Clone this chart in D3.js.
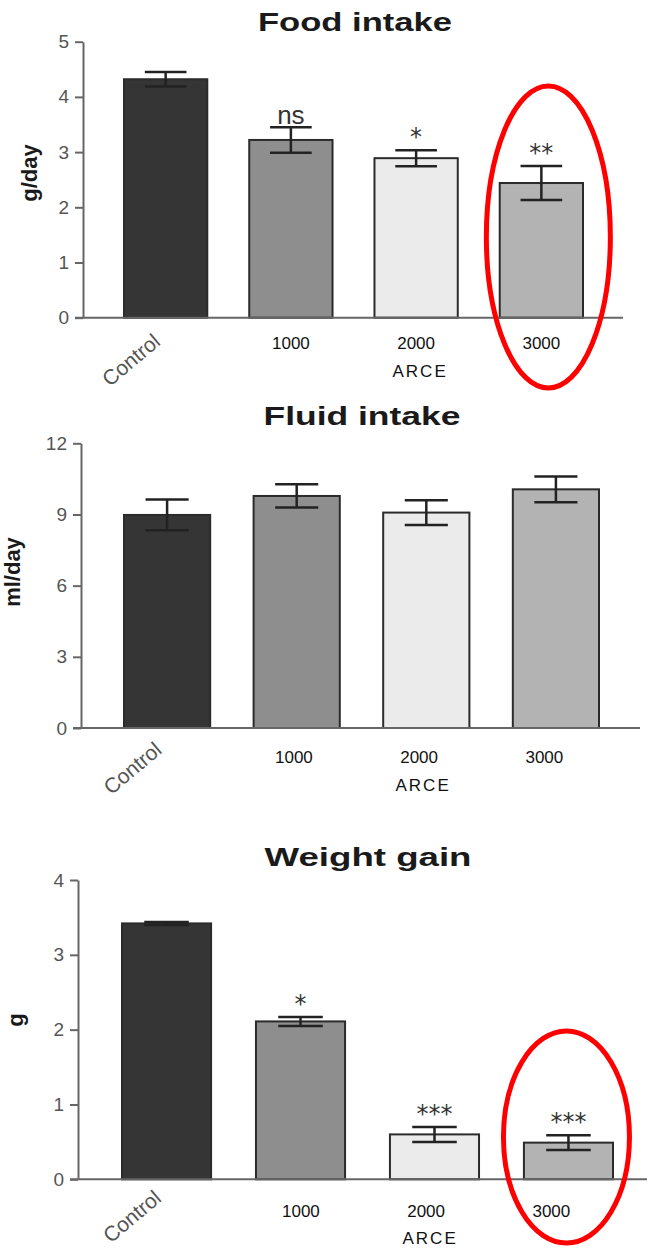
<!DOCTYPE html>
<html>
<head>
<meta charset="utf-8">
<script src="https://cdn.jsdelivr.net/npm/d3@7"></script>
<style>
  body { margin: 0; background: #fff; }
</style>
</head>
<body>
<div id="chart"></div>
<script>
// groups (ARCE dose) and the bar fills
const groups = ["Control", "1000", "2000", "3000"];
const groupFill = ["#353535", "#8e8e8e", "#ebebeb", "#b3b3b3"];

// Food intake (g/day)
const foodMean = [4.32, 3.22, 2.89, 2.44];
const foodErr  = [0.13, 0.23, 0.145, 0.31];
const foodSig  = ["", "ns", "*", "**"];
const foodTicks = [0, 1, 2, 3, 4, 5];

// Fluid intake (ml/day)
const fluidMean = [8.98, 9.78, 9.08, 10.06];
const fluidErr  = [0.65, 0.49, 0.52, 0.54];
const fluidSig  = ["", "", "", ""];
const fluidTicks = [0, 3, 6, 9, 12];

// Weight gain (g)
const weightMean = [3.42, 2.11, 0.60, 0.49];
const weightErr  = [0.02, 0.06, 0.10, 0.10];
const weightSig  = ["", "*", "***", "***"];
const weightTicks = [0, 1, 2, 3, 4];

const xTitle = "ARCE";

const panels = [
  { title: "Food intake", ylab: "g/day", mean: foodMean, err: foodErr, sig: foodSig, ticks: foodTicks,
    ax: 83, top: 41.7, bot: 317.7, bars: [124, 583], lineEnd: 623, lab: [124, 583],
    tx: 355, ty: 31, tw: 194, lx: 37, ly: 173, labDy: 31, arceDy: 59, ctrlDy: 26,
    ring: { dx: 7, cy: 237, rx: 62, ry: 151 } },
  { title: "Fluid intake", ylab: "ml/day", mean: fluidMean, err: fluidErr, sig: fluidSig, ticks: fluidTicks,
    ax: 81, top: 443.3, bot: 728, bars: [124, 599], lineEnd: 640, lab: [127, 586],
    tx: 362, ty: 425, tw: 197, lx: 20, ly: 572, labDy: 35, arceDy: 63, ctrlDy: 24,
    ring: null },
  { title: "Weight gain", ylab: "g", mean: weightMean, err: weightErr, sig: weightSig, ticks: weightTicks,
    ax: 78, top: 880, bot: 1179.3, bars: [122, 613], lineEnd: 647, lab: [134, 593],
    tx: 368, ty: 866, tw: 207, lx: 23, ly: 1020, labDy: 38, arceDy: 65, ctrlDy: 21,
    ring: { dx: -2, cy: 1137, rx: 63, ry: 106 } }
];

const svg = d3.select("#chart").append("svg")
  .attr("width", 647)
  .attr("height", 1248)
  .style("display", "block");

panels.forEach(function(p) {
  const g = svg.append("g");
  const rows = groups.map(function(k, i) {
    return { key: k, mean: p.mean[i], err: p.err[i], sig: p.sig[i], fill: groupFill[i] };
  });

  const y = d3.scaleLinear()
    .domain([0, d3.max(p.ticks)])
    .range([p.bot, p.top]);

  const x = d3.scaleBand()
    .domain(groups)
    .range(p.bars)
    .paddingInner(0.335)
    .paddingOuter(0);

  // labels sit on a slightly different spacing than the bars
  const xl = d3.scaleBand()
    .domain(groups)
    .range(p.lab)
    .paddingInner(0.335)
    .paddingOuter(0);

  // title
  g.append("text")
    .attr("x", p.tx)
    .attr("y", p.ty)
    .attr("text-anchor", "middle")
    .attr("textLength", p.tw)
    .attr("lengthAdjust", "spacingAndGlyphs")
    .style("font-family", "'Liberation Sans', Arial, sans-serif")
    .style("font-weight", "bold")
    .style("font-size", "26px")
    .style("fill", "#1a1a1a")
    .text(p.title);

  // y label
  g.append("text")
    .attr("transform", "translate(" + p.lx + "," + p.ly + ") rotate(-90)")
    .attr("text-anchor", "middle")
    .style("font-family", "'Liberation Sans', Arial, sans-serif")
    .style("font-weight", "bold")
    .style("font-size", "22px")
    .style("fill", "#1a1a1a")
    .text(p.ylab);

  // bars
  g.selectAll("rect.bar")
    .data(rows)
    .enter()
    .append("rect")
      .attr("class", "bar")
      .attr("x", function(d) { return x(d.key); })
      .attr("y", function(d) { return y(d.mean); })
      .attr("width", x.bandwidth())
      .attr("height", function(d) { return y(0) - y(d.mean); })
      .attr("fill", function(d) { return d.fill; })
      .attr("stroke", "#2b2b2b")
      .attr("stroke-width", 2);

  // error bars (stem + two caps, half the bar width)
  const cap = x.bandwidth() / 4;
  const eb = g.selectAll("g.err")
    .data(rows)
    .enter()
    .append("g")
      .attr("class", "err")
      .attr("stroke", "#222")
      .attr("stroke-width", 2.5);
  eb.append("line")
    .attr("x1", function(d) { return x(d.key) + x.bandwidth() / 2; })
    .attr("x2", function(d) { return x(d.key) + x.bandwidth() / 2; })
    .attr("y1", function(d) { return y(d.mean + d.err); })
    .attr("y2", function(d) { return y(d.mean - d.err); });
  eb.append("line")
    .attr("x1", function(d) { return x(d.key) + x.bandwidth() / 2 - cap; })
    .attr("x2", function(d) { return x(d.key) + x.bandwidth() / 2 + cap; })
    .attr("y1", function(d) { return y(d.mean + d.err); })
    .attr("y2", function(d) { return y(d.mean + d.err); });
  eb.append("line")
    .attr("x1", function(d) { return x(d.key) + x.bandwidth() / 2 - cap; })
    .attr("x2", function(d) { return x(d.key) + x.bandwidth() / 2 + cap; })
    .attr("y1", function(d) { return y(d.mean - d.err); })
    .attr("y2", function(d) { return y(d.mean - d.err); });

  // significance marks
  g.selectAll("text.sig")
    .data(rows.filter(function(d) { return d.sig !== ""; }))
    .enter()
    .append("text")
      .attr("class", "sig")
      .attr("x", function(d) { return x(d.key) + x.bandwidth() / 2; })
      .attr("y", function(d) { return y(d.mean + d.err) - (d.sig === "ns" ? 3 : 5); })
      .attr("text-anchor", "middle")
      .style("font-family", function(d) { return d.sig === "ns" ? "'Liberation Sans', Arial, sans-serif" : "'DejaVu Sans', sans-serif"; })
      .style("font-size", function(d) { return d.sig === "ns" ? "26px" : "24px"; })
      .style("fill", "#333")
      .text(function(d) { return d.sig; });

  // y axis
  const yAxis = g.append("g")
    .attr("transform", "translate(" + p.ax + ",0)")
    .call(d3.axisLeft(y).tickValues(p.ticks).tickFormat(d3.format("d"))
      .tickSize(8).tickSizeOuter(0).tickPadding(6));
  yAxis.select(".domain").attr("stroke", "#666").attr("stroke-width", 2);
  yAxis.selectAll(".tick line").attr("stroke", "#666").attr("stroke-width", 2);
  yAxis.selectAll(".tick text")
    .style("font-family", "'Liberation Sans', Arial, sans-serif")
    .style("font-size", "19px")
    .style("fill", "#555");

  // baseline
  g.append("line")
    .attr("x1", p.ax - 8)
    .attr("x2", p.lineEnd)
    .attr("y1", y(0))
    .attr("y2", y(0))
    .attr("stroke", "#666")
    .attr("stroke-width", 2);

  // category labels
  const xAxis = g.append("g")
    .attr("transform", "translate(0," + y(0) + ")")
    .call(d3.axisBottom(xl).tickSize(0).tickPadding(0));
  xAxis.select(".domain").remove();
  xAxis.selectAll(".tick text")
    .attr("y", p.labDy)
    .attr("dy", null)
    .style("font-family", "'Liberation Sans', Arial, sans-serif")
    .style("font-size", "17px")
    .style("fill", "#111");
  // Control is tilted and grey
  xAxis.selectAll(".tick").filter(function(d) { return d === "Control"; })
    .attr("transform", "translate(" + (x("Control") + x.bandwidth() / 2 - 4) + ",0)")
    .select("text")
      .attr("y", 0)
      .attr("text-anchor", "end")
      .attr("transform", "translate(0," + p.ctrlDy + ") rotate(-40)")
      .style("font-size", "21px")
      .style("fill", "#555");

  g.append("text")
    .attr("x", xl("2000") + xl.bandwidth() / 2 + 4)
    .attr("y", y(0) + p.arceDy)
    .attr("text-anchor", "middle")
    .style("font-family", "'Liberation Sans', Arial, sans-serif")
    .style("font-size", "17px")
    .style("letter-spacing", "2px")
    .style("fill", "#111")
    .text(xTitle);

  // red highlight ring around the top dose
  if (p.ring) {
    g.append("ellipse")
      .attr("cx", x("3000") + x.bandwidth() / 2 + p.ring.dx)
      .attr("cy", p.ring.cy)
      .attr("rx", p.ring.rx)
      .attr("ry", p.ring.ry)
      .attr("fill", "none")
      .attr("stroke", "#ff0000")
      .attr("stroke-width", 5);
  }
});
</script>
</body>
</html>
